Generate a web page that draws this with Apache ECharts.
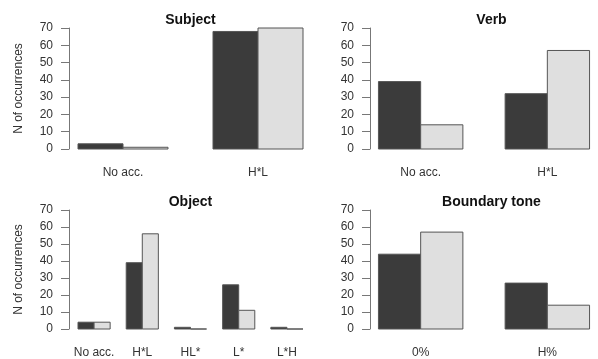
<!DOCTYPE html>
<html><head><meta charset="utf-8">
<script src="https://cdn.jsdelivr.net/npm/echarts@6/dist/echarts.min.js"></script>
<style>html,body{margin:0;padding:0;background:#fff}#c{width:598px;height:359px}</style>
</head><body><div id="c"></div>
<script>
// Data
const subjectCats = ['No acc.', 'H*L'];
const subjectDark = [3, 68];
const subjectLight = [1, 70];
const verbCats = ['No acc.', 'H*L'];
const verbDark = [39, 32];
const verbLight = [14, 57];
const objectCats = ['No acc.', 'H*L', 'HL*', 'L*', 'L*H'];
const objectDark = [4, 39, 1, 26, 1];
const objectLight = [4, 56, 0, 11, 0];
const boundaryCats = ['0%', 'H%'];
const boundaryDark = [44, 27];
const boundaryLight = [57, 14];
const yTicks = [0, 10, 20, 30, 40, 50, 60, 70];

const panels = [
  {title: 'Subject', cats: subjectCats, dark: subjectDark, light: subjectLight, left: 69, top: 28, yname: true},
  {title: 'Verb', cats: verbCats, dark: verbDark, light: verbLight, left: 370, top: 28, yname: false},
  {title: 'Object', cats: objectCats, dark: objectDark, light: objectLight, left: 69, top: 210, yname: true},
  {title: 'Boundary tone', cats: boundaryCats, dark: boundaryDark, light: boundaryLight, left: 370, top: 210, yname: false}
];

const FONT = 'Liberation Sans, Arial, Helvetica, sans-serif';
const option = {animation: false, backgroundColor: '#fff', title: [], grid: [], xAxis: [], yAxis: [], series: []};

panels.forEach((p, k) => {
  const n = p.cats.length;
  const span = 3 * n - 1; // bars from 1 to 3n
  const ext = span * 0.04;
  const xmin = 1 - ext, xmax = 3 * n + ext;
  const W = 243, H = 121;
  option.grid.push({left: p.left, top: p.top, width: W, height: H});
  option.title.push({text: p.title, left: p.left + W / 2, top: p.top - 15, textAlign: 'center', padding: 0,
    textStyle: {fontFamily: FONT, fontSize: 14, fontWeight: 'bold', color: '#111'}});
  const centers = p.cats.map((c, i) => 3 * i + 2);
  option.xAxis.push({type: 'value', gridIndex: k, min: xmin, max: xmax,
    axisLine: {show: false}, splitLine: {show: false},
    axisTick: {show: false},
    axisLabel: {show: true, customValues: centers, margin: 18, fontFamily: FONT, fontSize: 12, color: '#333',
      formatter: v => p.cats[Math.round((v - 2) / 3)]}
  });
  option.yAxis.push({type: 'value', gridIndex: k, min: 0, max: 70, interval: 10,
    name: p.yname ? 'N of occurrences' : '', nameLocation: 'middle', nameGap: 44,
    nameTextStyle: {fontFamily: FONT, fontSize: 12, color: '#333'},
    axisLine: {show: true, lineStyle: {color: '#777', width: 1}},
    axisTick: {show: true, length: 8, lineStyle: {color: '#777'}},
    splitLine: {show: false},
    axisLabel: {margin: 16, fontFamily: FONT, fontSize: 12, color: '#333'}
  });
  const mk = (vals, off, fill) => ({
    type: 'custom', xAxisIndex: k, yAxisIndex: k,
    data: vals.map((v, i) => [3 * i + 1 + off, v]),
    renderItem: (params, api) => {
      const x0 = api.value(0), y = api.value(1);
      const a = api.coord([x0, 0]), b = api.coord([x0 + 1, y]);
      return {type: 'rect', shape: {x: a[0], y: b[1], width: b[0] - a[0], height: a[1] - b[1]},
        style: {fill: fill, stroke: '#555', lineWidth: 1}};
    }
  });
  option.series.push(mk(p.dark, 0, '#3b3b3b'));
  option.series.push(mk(p.light, 1, '#dfdfdf'));
});

const chart = echarts.init(document.getElementById('c'), null, {renderer: 'canvas'});
chart.setOption(option);
</script></body></html>
